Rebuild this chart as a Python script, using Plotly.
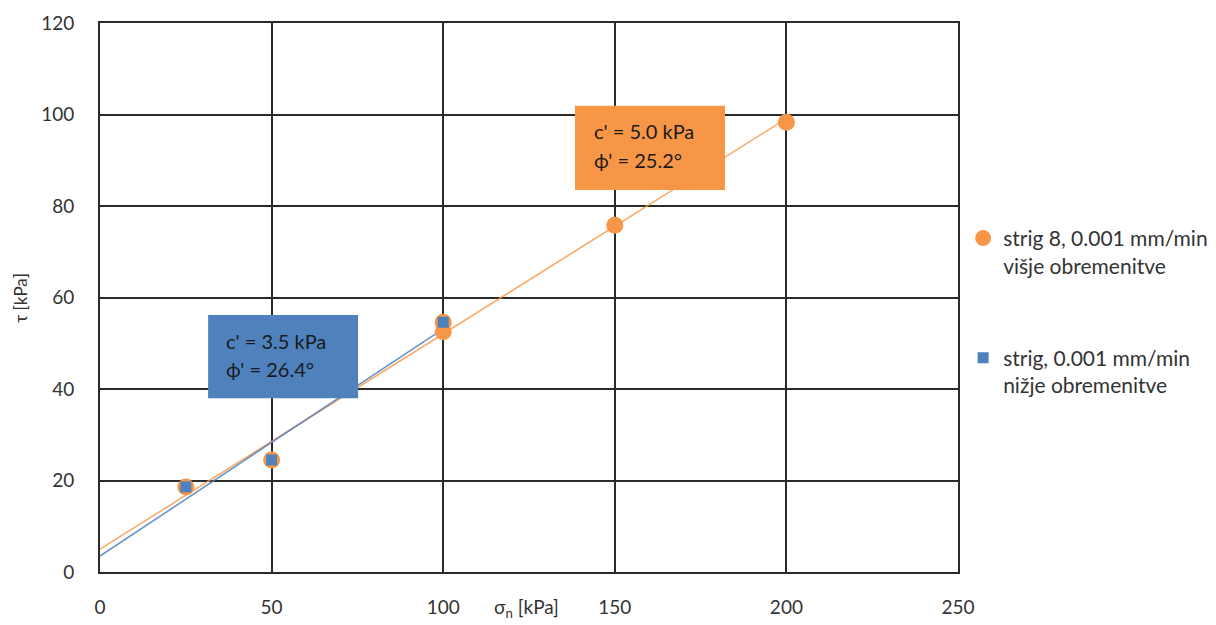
import math
import plotly.graph_objects as go

# Direct shear test results: normal stress vs. peak shear stress
sigma_upper = [25, 50, 100, 100, 150, 200]
tau_upper = [18.6, 24.5, 54.6, 52.5, 75.8, 98.3]
sigma_lower = [25, 50, 100]
tau_lower = [18.6, 24.5, 54.6]

# Mohr-Coulomb parameters of each envelope
c_upper, phi_upper = 5.0, 25.2
c_lower, phi_lower = 3.5, 26.4

name_upper = "strig 8, 0.001 mm/min<br>višje obremenitve"
name_lower = "strig, 0.001 mm/min<br>nižje obremenitve"

x_ticks = [0, 50, 100, 150, 200, 250]
y_ticks = [0, 20, 40, 60, 80, 100, 120]

ORANGE = "#f79646"
BLUE = "#4f81bd"
TEXT = "#333333"
GRID = "#2a2a2a"
FONT = "Lato"


def envelope(c, phi, xmax):
    xs = [0, xmax]
    ys = [c + math.tan(math.radians(phi)) * x for x in xs]
    return xs, ys


fig = go.Figure()

xu, yu = envelope(c_upper, phi_upper, max(sigma_upper))
xl, yl = envelope(c_lower, phi_lower, max(sigma_lower))

fig.add_trace(go.Scatter(x=xu, y=yu, mode="lines", showlegend=False,
                         line=dict(color="rgba(247,150,70,0.8)", width=1.6),
                         hoverinfo="skip"))
fig.add_trace(go.Scatter(x=xl, y=yl, mode="lines", showlegend=False,
                         line=dict(color="rgba(79,129,189,0.85)", width=1.6),
                         hoverinfo="skip"))

fig.add_trace(go.Scatter(x=sigma_upper, y=tau_upper, mode="markers",
                         name=name_upper, legendgroup="upper",
                         marker=dict(symbol="circle", size=17, color=ORANGE)))
fig.add_trace(go.Scatter(x=sigma_lower, y=tau_lower, mode="markers",
                         name=name_lower, legendgroup="lower",
                         marker=dict(symbol="square", size=11, color=BLUE)))

# Parameter boxes (data coordinates)
boxes = [
    dict(x0=31.5, x1=75.2, y0=38.0, y1=56.2, color=BLUE, tx=36.2,
         lines=(50.6, 44.4), c=c_lower, phi=phi_lower),
    dict(x0=138.4, x1=182.1, y0=83.5, y1=101.9, color=ORANGE, tx=143.5,
         lines=(96.4, 90.1), c=c_upper, phi=phi_upper),
]
for b in boxes:
    fig.add_shape(type="rect", xref="x", yref="y", x0=b["x0"], x1=b["x1"],
                  y0=b["y0"], y1=b["y1"], fillcolor=b["color"],
                  line=dict(width=0), layer="above")
    texts = [f"c' = {b['c']:.1f} kPa", f"ϕ' = {b['phi']:.1f}°"]
    for t, ty in zip(texts, b["lines"]):
        fig.add_annotation(x=b["tx"], y=ty, xref="x", yref="y", text=t,
                           showarrow=False, xanchor="left", yanchor="middle",
                           font=dict(family=FONT, size=20, color="#1a1a1a"))

# Axis titles
fig.add_annotation(text="σ<sub>n</sub> [kPa]", xref="paper", yref="paper",
                   x=0.497, y=-0.0935, xanchor="center", yanchor="bottom",
                   showarrow=False, font=dict(family=FONT, size=19, color=TEXT))
fig.add_annotation(text="τ [kPa]", xref="paper", yref="paper",
                   x=-0.093, y=0.5, xanchor="center", yanchor="middle",
                   textangle=-90, showarrow=False,
                   font=dict(family=FONT, size=17, color=TEXT))

axis_common = dict(showgrid=True, gridcolor=GRID, gridwidth=1.6,
                   showline=True, linecolor=GRID, linewidth=2, mirror=True,
                   zeroline=False, ticks="", automargin=False,
                   tickfont=dict(family=FONT, size=19, color=TEXT))

fig.update_layout(
    width=1216, height=625,
    margin=dict(l=100, r=258, t=23, b=53, autoexpand=False),
    paper_bgcolor="white", plot_bgcolor="white",
    font=dict(family=FONT, color=TEXT),
    xaxis=dict(range=[0, 250], tickvals=x_ticks, ticklabelstandoff=17,
               **axis_common),
    yaxis=dict(range=[0, 120], tickvals=y_ticks, ticklabelstandoff=20,
               **axis_common),
    legend=dict(x=1.006, y=0.645, xanchor="left", yanchor="top",
                valign="top", tracegroupgap=62, bgcolor="rgba(0,0,0,0)",
                font=dict(family=FONT, size=21, color=TEXT)),
)

fig.write_html("out.html")
